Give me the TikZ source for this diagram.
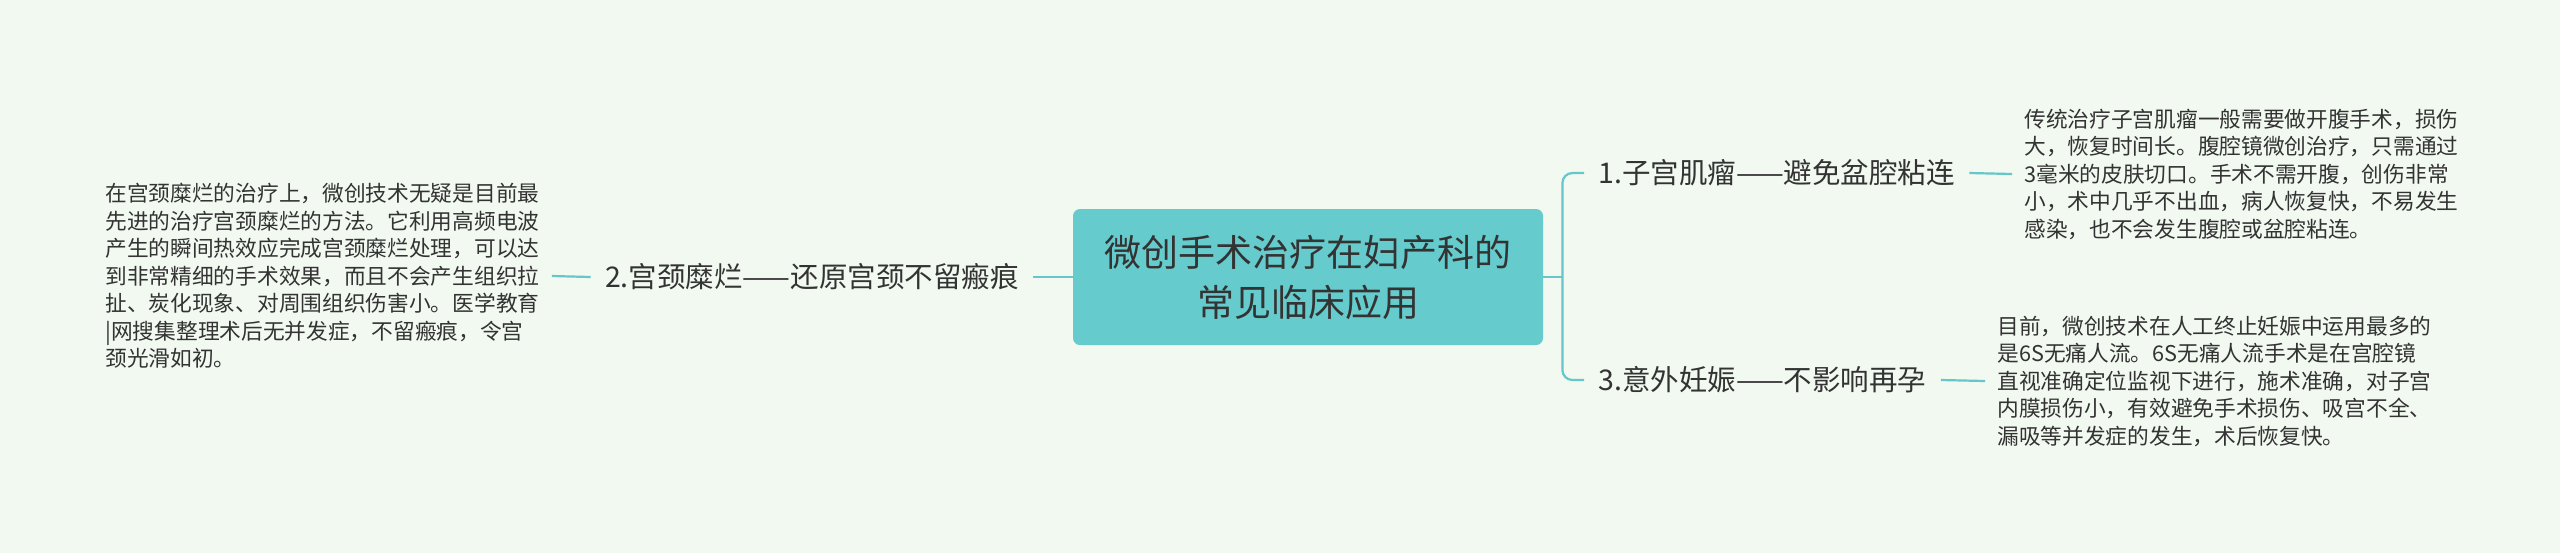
\documentclass[tikz,border=0pt]{standalone}
\usepackage{fontspec}
\setmainfont{Noto Sans CJK SC}
\usepackage{xcolor}
\usepackage{tikz}
\usetikzlibrary{calc}
\definecolor{bgmint}{HTML}{F1F9F1}
\definecolor{mapteal}{HTML}{66C6C9}
\definecolor{rootfill}{HTML}{65CBCC}
\definecolor{inkgray}{HTML}{333333}

\begin{document}
\begin{tikzpicture}[x=0.5pt,y=-0.5pt,
		rootbox/.style={fill=rootfill,rounded corners=3.5pt,minimum width=235pt,minimum height=68pt,
			align=center,text=inkgray,font=\fontsize{18.5pt}{25pt}\selectfont},
		branch/.style={inner xsep=7pt,inner ysep=2pt,text=inkgray,font=\fontsize{14.25pt}{17pt}\selectfont},
		detail/.style={inner xsep=6pt,inner ysep=2pt,align=left,text=inkgray,
			font=\fontsize{10.85pt}{13.75pt}\selectfont},
		link/.style={draw=mapteal,line width=1.1pt}]
			\fill[bgmint] (0,0) rectangle (2560,553);
			\node[rootbox](root) at (1308,277) {微创手术治疗在妇产科的\\常见临床应用};
			\node[branch,anchor=east](erosion) at (1033,277) {2.宫颈糜烂——还原宫颈不留瘢痕};
			\node[detail,anchor=west](erosiontxt) at (93,276)
			{
				在宫颈糜烂的治疗上，微创技术无疑是目前最\\
				先进的治疗宫颈糜烂的方法。它利用高频电波\\
				产生的瞬间热效应完成宫颈糜烂处理，可以达\\
				到非常精细的手术效果，而且不会产生组织拉\\
				扯、炭化现象、对周围组织伤害小。医学教育\\
				|网搜集整理术后无并发症，不留瘢痕，令宫\\
				颈光滑如初。
			};
			\node[branch,anchor=west](fibroid) at (1584,173) {1.子宫肌瘤——避免盆腔粘连};
			\node[detail,anchor=west](fibroidtxt) at (2012,174)
			{
				传统治疗子宫肌瘤一般需要做开腹手术，损伤\\
				大，恢复时间长。腹腔镜微创治疗，只需通过\\
				3毫米的皮肤切口。手术不需开腹，创伤非常\\
				小，术中几乎不出血，病人恢复快，不易发生\\
				感染，也不会发生腹腔或盆腔粘连。
			};
			\node[branch,anchor=west](abortion) at (1584,380) {3.意外妊娠——不影响再孕};
			\node[detail,anchor=west](abortiontxt) at (1985,381)
			{
				目前，微创技术在人工终止妊娠中运用最多的\\
				是6S无痛人流。6S无痛人流手术是在宫腔镜\\
				直视准确定位监视下进行，施术准确，对子宫\\
				内膜损伤小，有效避免手术损伤、吸宫不全、\\
				漏吸等并发症的发生，术后恢复快。
			};
			\coordinate(fork) at ($(root.east)+(19,0)$);
			\draw[link] (root.east) -- (fork);
			\draw[link,rounded corners=5pt] (fork) |- (fibroid.west);
			\draw[link,rounded corners=5pt] (fork) |- (abortion.west);
			\draw[link] (fibroid.east) -- (fibroidtxt.west);
			\draw[link] (abortion.east) -- (abortiontxt.west);
			\draw[link] (root.west) -- (erosion.east);
			\draw[link] (erosion.west) -- (erosiontxt.east);
		\end{tikzpicture}
\end{document}
